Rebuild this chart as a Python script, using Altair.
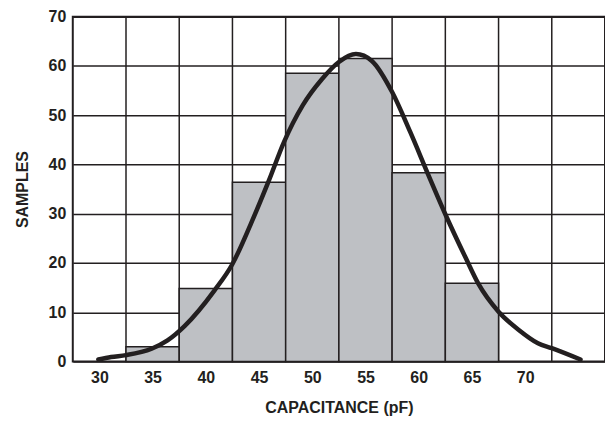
import altair as alt
import pandas as pd

# Histogram bins (centers, width 5 pF) and counts
bin_centers = [35, 40, 45, 50, 55, 60, 65]
bin_counts = [3.0, 14.8, 36.4, 58.5, 61.5, 38.3, 15.9]
bin_width = 5

# Vertical grid lines at bin edges
grid_edges = [32.5, 37.5, 42.5, 47.5, 52.5, 57.5, 62.5, 67.5, 72.5]

# Fitted distribution curve
curve_x = [29.9, 31.1, 32.5, 34.9, 36.4, 38.0, 40.8, 42.5, 44.2, 45.9, 47.35,
           49.1, 50.9, 52.5, 54.1, 55.6, 57.5, 59.2, 60.9, 62.5, 64.4, 65.6,
           67.5, 69.4, 71.2, 72.5, 75.2]
curve_y = [0.4, 0.9, 1.3, 2.6, 4.3, 7.2, 14.4, 19.8, 27.8, 36.6, 44.6,
           52.0, 57.3, 60.8, 62.4, 61.0, 54.7, 46.6, 37.9, 29.9, 21.1, 15.8,
           10.1, 6.4, 3.7, 2.7, 0.4]

x_labels = [30, 35, 40, 45, 50, 55, 60, 65, 70]
y_ticks = [0, 10, 20, 30, 40, 50, 60, 70]

bars = pd.DataFrame({
    "center": bin_centers,
    "count": bin_counts,
})
bars["lo"] = bars["center"] - bin_width / 2
bars["hi"] = bars["center"] + bin_width / 2

edges = pd.DataFrame({"edge": grid_edges})
curve = pd.DataFrame({"x": curve_x, "y": curve_y})

W, H = 534, 346
INK = "#231f20"
FONT = "Liberation Sans"

xscale = alt.Scale(domain=[27.5, 77.5], nice=False, zero=False)
yscale = alt.Scale(domain=[0, 70], nice=False)

xaxis = alt.Axis(values=x_labels, grid=False, ticks=False, domain=False,
                 labelFont=FONT, labelFontSize=16, labelFontWeight="bold",
                 labelColor=INK, labelPadding=8,
                 title="CAPACITANCE (pF)", titleFont=FONT, titleFontSize=16,
                 titleFontWeight="bold", titleColor=INK, titlePadding=14)
yaxis = alt.Axis(values=y_ticks, grid=True, gridColor=INK, gridWidth=1.5, gridOpacity=1,
                 ticks=False, domain=False,
                 labelFont=FONT, labelFontSize=16, labelFontWeight="bold",
                 labelColor=INK, labelPadding=7,
                 title="SAMPLES", titleFont=FONT, titleFontSize=16,
                 titleFontWeight="bold", titleColor=INK, titlePadding=18)

vgrid = alt.Chart(edges).mark_rule(color=INK, strokeWidth=1.5).encode(
    x=alt.X("edge:Q", scale=xscale, axis=xaxis),
    y=alt.value(0),
    y2=alt.value(H),
)

hist = alt.Chart(bars).mark_rect(fill="#bec0c4", stroke=INK, strokeWidth=1.5).encode(
    x=alt.X("lo:Q", scale=xscale, axis=xaxis),
    x2="hi:Q",
    y=alt.Y("count:Q", scale=yscale, axis=yaxis),
    y2=alt.datum(0),
)

line = alt.Chart(curve).mark_line(color=INK, strokeWidth=4.5, interpolate="monotone",
                                  strokeCap="round").encode(
    x=alt.X("x:Q", scale=xscale, axis=xaxis),
    y=alt.Y("y:Q", scale=yscale, axis=yaxis),
)

chart = alt.layer(vgrid, hist, line).properties(
    width=W, height=H,
    autosize=alt.AutoSizeParams(type="none"),
    padding={"left": 65, "top": 8, "right": 0, "bottom": 60},
    background="white",
).configure_view(stroke=INK, strokeWidth=2)

chart.save("out.html", embed_options={"renderer": "svg", "actions": False})
